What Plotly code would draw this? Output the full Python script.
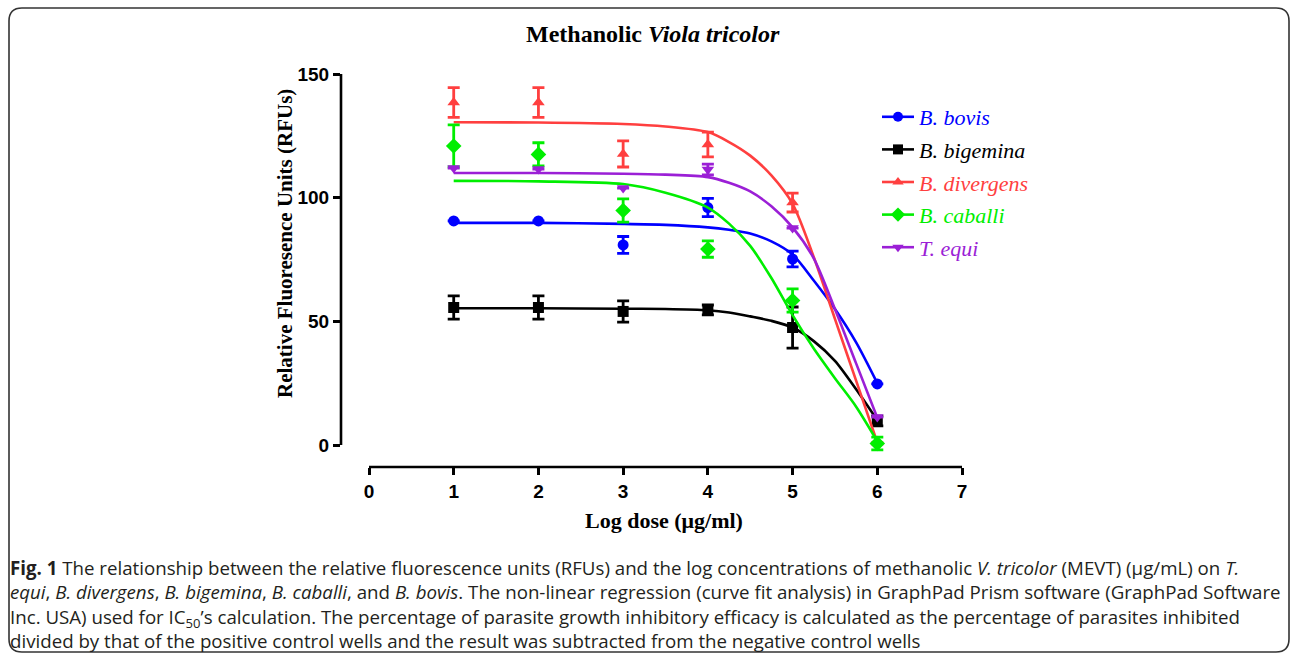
import plotly.graph_objects as go

# ---------------- data ----------------
dose = [1, 2, 3, 4, 5, 6]

series_names = ["B. bovis", "B. bigemina", "B. divergens", "B. caballi", "T. equi"]
series_colors = ["#0000FF", "#000000", "#FF3F3F", "#00EE00", "#9B1FD6"]
series_symbols = ["circle", "square", "triangle-up", "diamond", "triangle-down"]

bovis_mean = [90.6, 90.6, 80.9, 96.0, 75.2, 24.7]
bovis_err = [0, 0, 3.4, 3.7, 3.2, 0]
bigemina_mean = [55.6, 55.6, 54.0, 54.6, 47.5, 9.7]
bigemina_err = [4.7, 4.7, 4.3, 2.0, 8.3, 2.0]
divergens_mean = [138.5, 138.5, 117.7, 121.5, 98.0, 1.0]
divergens_err = [6.0, 6.0, 5.3, 5.0, 3.8, 0]
caballi_mean = [120.9, 117.5, 94.8, 79.2, 58.4, 0.6]
caballi_err = [8.5, 4.7, 4.7, 3.3, 4.7, 2.6]
equi_mean = [112.0, 111.6, 103.9, 111.4, 87.7, 11.3]
equi_err = [0, 0, 0, 2.2, 0, 0]

# fitted curves
fit_x = [1, 2, 3, 3.5, 4, 4.25, 4.5, 4.75, 5, 5.25, 5.5, 5.75, 6]
bovis_fit = [89.8, 89.8, 89.4, 89.0, 88.0, 87.0, 85.5, 82.3, 77.0, 66.5, 55.0, 41.5, 25.0]
bigemina_fit = [55.3, 55.3, 55.1, 55.0, 54.5, 53.6, 52.0, 50.2, 47.5, 42.0, 34.0, 22.5, 10.0]
divergens_fit = [130.5, 130.4, 129.8, 128.8, 126.5, 122.5, 117.0, 109.0, 97.5, 76.0, 51.0, 26.0, 1.0]
caballi_fit = [106.8, 106.6, 105.5, 102.0, 96.0, 89.5, 80.5, 67.5, 52.5, 39.0, 27.0, 15.5, 1.5]
equi_fit = [110.0, 110.0, 109.7, 109.3, 108.3, 106.0, 102.5, 96.5, 88.0, 75.5, 55.0, 33.0, 11.0]

means = [bovis_mean, bigemina_mean, divergens_mean, caballi_mean, equi_mean]
errs = [bovis_err, bigemina_err, divergens_err, caballi_err, equi_err]
fits = [bovis_fit, bigemina_fit, divergens_fit, caballi_fit, equi_fit]

x_ticks = [0, 1, 2, 3, 4, 5, 6, 7]
y_ticks = [0, 50, 100, 150]

title_text = "<b>Methanolic <i>Viola tricolor</i></b>"
x_title = "<b>Log dose (μg/ml)</b>"
y_title = "<b>Relative Fluoresence Units (RFUs)</b>"
caption_lines = [
    "<b>Fig. 1</b> The relationship between the relative fluorescence units (RFUs) and the log concentrations of methanolic <i>V. tricolor</i> (MEVT) (μg/mL) on <i>T.</i>",
    "<i>equi</i>, <i>B. divergens</i>, <i>B. bigemina</i>, <i>B. caballi</i>, and <i>B. bovis</i>. The non-linear regression (curve fit analysis) in GraphPad Prism software (GraphPad Software",
    "Inc. USA) used for IC<sub>50</sub>’s calculation. The percentage of parasite growth inhibitory efficacy is calculated as the percentage of parasites inhibited",
    "divided by that of the positive control wells and the result was subtracted from the negative control wells",
]

# ---------------- layout geometry ----------------
W, H = 1292, 655
L, R, T, B = 341, 962, 74, 467
X0PX, X7PX = 369, 962
Y0PX, Y150PX = 445, 74
xu = (X7PX - X0PX) / 7.0
yu = (Y0PX - Y150PX) / 150.0
x_range = [-(X0PX - L) / xu, (R - X0PX) / xu]
y_range = [-(B - Y0PX) / yu, (Y0PX - T) / yu]


def pxx(p):
    return (p - L) / (R - L)


def pxy(p):
    return (B - p) / (B - T)


fig = go.Figure()

for name, col, sym, m, e, f in zip(series_names, series_colors, series_symbols, means, errs, fits):
    fig.add_trace(go.Scatter(
        x=fit_x, y=f, mode="lines", line=dict(color=col, width=2.6, shape="spline", smoothing=0.8),
        showlegend=False, hoverinfo="skip"))
    fig.add_trace(go.Scatter(
        x=dose, y=m, mode="markers",
        marker=dict(symbol=sym, color=col, size=11 if sym != "diamond" else 12, line=dict(width=0)),
        error_y=dict(type="data", array=e, visible=True, color=col, thickness=2.8, width=6),
        showlegend=False))

for name, col, sym in zip(series_names, series_colors, series_symbols):
    fig.add_trace(go.Scatter(
        x=[None], y=[None], mode="lines+markers",
        name='<span style="color:%s"><i>%s</i></span>' % (col, name),
        line=dict(color=col, width=2.6),
        marker=dict(symbol=sym, color=col, size=10 if sym != "diamond" else 11),
        legendgroup=name, showlegend=True))

tick_font = dict(family="Liberation Sans, Arial", size=19, color="black", weight="bold")

fig.update_layout(
    width=W, height=H,
    margin=dict(l=L, r=W - R, t=T, b=H - B, pad=0),
    paper_bgcolor="white", plot_bgcolor="white",
    showlegend=True,
    legend=dict(x=pxx(877), y=pxy(96), xanchor="left", yanchor="top",
                font=dict(family="Liberation Serif, Times New Roman", size=22, color="black"),
                bgcolor="rgba(0,0,0,0)", tracegroupgap=1, itemwidth=32),
    xaxis=dict(range=x_range, tickvals=x_ticks, ticks="outside", ticklen=7, tickwidth=2.5,
               tickcolor="black", showline=False, showgrid=False, zeroline=False,
               tickfont=tick_font),
    yaxis=dict(range=y_range, tickvals=y_ticks, ticks="outside", ticklen=7, tickwidth=2.5,
               tickcolor="black", showline=False, showgrid=False, zeroline=False,
               tickfont=tick_font),
)

# axis lines (Prism-style offset axes)
fig.add_shape(type="line", xref="x", yref="paper", x0=0, x1=7, y0=0, y1=0,
              line=dict(color="black", width=2.6))
fig.add_shape(type="line", xref="paper", yref="y", x0=0, x1=0, y0=0, y1=150,
              line=dict(color="black", width=2.6))

# rounded frame
fx1, fx2, fy1, fy2, rr = 9, 1289, 8, 652, 13


def P(x, y):
    return "%.5f,%.5f" % (pxx(x), pxy(y))


path = ("M " + P(fx1 + rr, fy1) + " L " + P(fx2 - rr, fy1) + " Q " + P(fx2, fy1) + " " + P(fx2, fy1 + rr) +
        " L " + P(fx2, fy2 - rr) + " Q " + P(fx2, fy2) + " " + P(fx2 - rr, fy2) +
        " L " + P(fx1 + rr, fy2) + " Q " + P(fx1, fy2) + " " + P(fx1, fy2 - rr) +
        " L " + P(fx1, fy1 + rr) + " Q " + P(fx1, fy1) + " " + P(fx1 + rr, fy1) + " Z")
fig.add_shape(type="path", xref="paper", yref="paper", path=path,
              line=dict(color="#333333", width=1.6), fillcolor="rgba(0,0,0,0)")

# title and axis titles
fig.add_annotation(x=pxx(653), y=pxy(34), xref="paper", yref="paper", text=title_text,
                   showarrow=False, xanchor="center", yanchor="middle",
                   font=dict(family="Liberation Serif, Times New Roman", size=24, color="black"))
fig.add_annotation(x=pxx(664), y=pxy(520), xref="paper", yref="paper", text=x_title,
                   showarrow=False, xanchor="center", yanchor="middle",
                   font=dict(family="Liberation Serif, Times New Roman", size=22, color="black"))
fig.add_annotation(x=pxx(285), y=pxy(244), xref="paper", yref="paper", text=y_title,
                   showarrow=False, xanchor="center", yanchor="middle", textangle=-90,
                   font=dict(family="Liberation Serif, Times New Roman", size=21, color="black"))

# caption (one multi-line text block)
fig.add_annotation(x=pxx(8), y=pxy(603.5), xref="paper", yref="paper",
                   text="<br>".join(caption_lines),
                   showarrow=False, xanchor="left", yanchor="middle", align="left",
                   font=dict(family="Open Sans", size=18.7, color="#231F20"))

fig.write_html("out.html", post_script="document.body.style.margin='0';",
               config={"displayModeBar": False})
